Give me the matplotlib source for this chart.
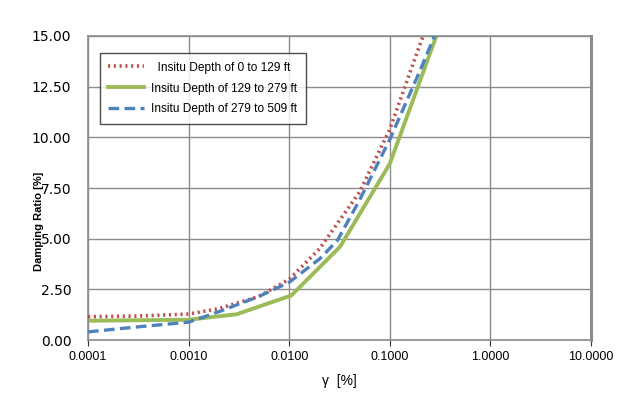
import matplotlib
matplotlib.use("Agg")
import matplotlib.pyplot as plt
from matplotlib.ticker import FixedLocator, FuncFormatter

plt.rcParams['font.family'] = ['Liberation Sans', 'DejaVu Sans']

# strain [%] and damping ratio [%]
strain_a = [0.0001, 0.0003, 0.001, 0.002, 0.005, 0.01, 0.02, 0.05, 0.1, 0.2, 0.3]
damp_a = [1.15, 1.18, 1.28, 1.55, 2.15, 3.0, 4.5, 7.3, 10.4, 14.6, 16.9]

strain_b = [0.0001, 0.001, 0.003, 0.0105, 0.032, 0.1, 0.3]
damp_b = [0.95, 1.0, 1.27, 2.2, 4.6, 8.7, 15.2]

strain_c = [0.0001, 0.0003, 0.001, 0.002, 0.005, 0.01, 0.02, 0.03, 0.05, 0.1, 0.2, 0.3]
damp_c = [0.4, 0.64, 0.88, 1.4, 2.15, 2.85, 4.0, 4.9, 6.9, 9.9, 13.3, 15.4]

labels = ["  Insitu Depth of 0 to 129 ft", "Insitu Depth of 129 to 279 ft",
          "Insitu Depth of 279 to 509 ft"]
x_ticks = [0.0001, 0.001, 0.01, 0.1, 1, 10]
y_ticks = [0, 2.5, 5, 7.5, 10, 12.5, 15]

fig = plt.figure(figsize=(6.29, 4.04), dpi=100)
ax = fig.add_axes([0.140, 0.1584, 0.7996, 0.7525])

ax.plot(strain_a, damp_a, color="#C0504D", lw=2.6, ls=(0, (0.6, 1.0)),
        label=labels[0], zorder=3)
ax.plot(strain_b, damp_b, color="#9BBB59", lw=2.8, label=labels[1], zorder=2)
ax.plot(strain_c, damp_c, color="#4F81BD", lw=2.4, ls=(0, (3.2, 1.6)),
        label=labels[2], zorder=4)

ax.set_xscale("log")
ax.set_xlim(0.0001, 10)
ax.set_ylim(0, 15)
ax.xaxis.set_major_locator(FixedLocator(x_ticks))
ax.xaxis.set_minor_locator(FixedLocator([]))
ax.xaxis.set_major_formatter(FuncFormatter(lambda v, p: f"{v:.4f}"))
ax.set_yticks(y_ticks)
ax.yaxis.set_major_formatter(FuncFormatter(lambda v, p: f"{v:.2f}"))

ax.grid(True, color="#8c8c8c", lw=1.0)
ax.set_axisbelow(True)
for s in ["left", "bottom", "top"]:
    ax.spines[s].set_color("#8c8c8c")
    ax.spines[s].set_linewidth(1.2)
ax.spines["right"].set_color("#8c8c8c")
ax.spines["right"].set_linewidth(2.2)

ax.tick_params(axis="x", direction="out", length=4, color="#333333",
               labelsize=9, pad=4)
ax.tick_params(axis="y", length=0, labelsize=10, pad=12)
for t in ax.get_yticklabels():
    t.set_family(["DejaVu Sans"])

ax.set_xlabel("γ  [%]", fontsize=10, labelpad=8)
ax.set_ylabel("Damping Ratio [%]", fontsize=8, fontweight="bold",
              family=["Liberation Sans Narrow", "Liberation Sans"])
ax.yaxis.set_label_coords(-0.088, 0.39)

leg = ax.legend(loc="upper left", bbox_to_anchor=(0.012, 0.963), fontsize=8.6,
                frameon=True, fancybox=False, handlelength=3.0,
                borderpad=0.7, labelspacing=0.75, handletextpad=0.6)
leg.get_frame().set_edgecolor("#222222")
leg.get_frame().set_linewidth(1.0)

fig.savefig("out.png", dpi=100)
